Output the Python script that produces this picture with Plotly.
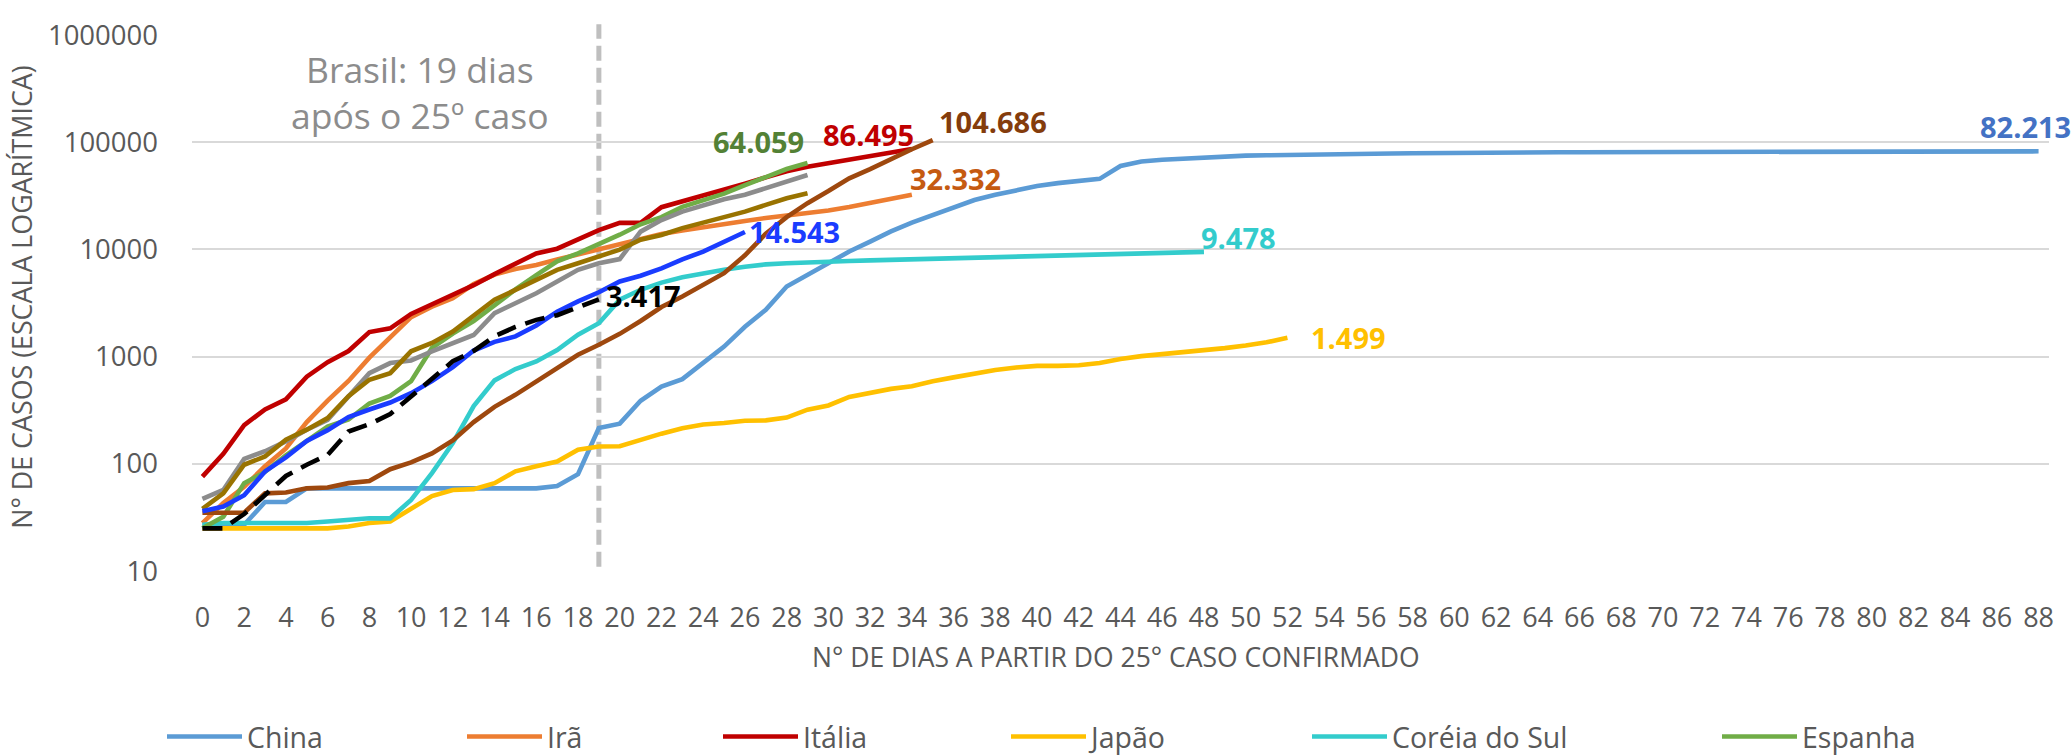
import math
import plotly.graph_objects as go

# ---------------- data ----------------
x_tick_vals = list(range(0, 89, 2))
y_tick_vals = [10, 100, 1000, 10000, 100000, 1000000]
y_tick_text = ["10", "100", "1000", "10000", "100000", "1000000"]

china = [27, 27, 27, 44, 44, 59, 59, 59, 59, 59, 59, 59, 59, 59, 59, 59, 59,
         62, 80, 216, 237, 387, 525, 616, 870, 1240, 1900, 2730, 4500, 5800,
         7430, 9550, 11800, 14700, 17800, 21000, 25000, 28900, 32300, 35900,
         39000, 41500, 43500, 45500, 60000, 66000, 68500, 70500, 72500, 74000,
         75000, 75500, 76300, 76900, 77200, 77700, 78100, 78500, 78800, 79300,
         79800, 80000, 80150, 80270, 80400, 80550, 80650, 80700, 80740, 80750,
         80780, 80790, 80810, 80820, 80840, 80860, 80880, 80900, 80930, 80970,
         81010, 81050, 81090, 81170, 81220, 81290, 81400, 81700, 82213]
ira = [28, 43, 61, 95, 139, 245, 388, 593, 978, 1501, 2336, 2922, 3513, 4747,
       5823, 6566, 7161, 8042, 9000, 10075, 11364, 12729, 13938, 14991, 16169,
       17361, 18407, 19644, 20610, 21638, 23049, 24811, 27017, 29406, 32332]
italia = [76, 124, 229, 322, 400, 650, 888, 1128, 1694, 1835, 2502, 3089, 3858,
          4636, 5883, 7375, 9172, 10149, 12462, 15113, 17660, 17660, 24747,
          27980, 31506, 35713, 41035, 47021, 53578, 59138, 63927, 69176, 74386,
          80589, 86495]
japao = [25, 25, 25, 25, 25, 25, 25, 26, 28, 29, 38, 50, 57, 58, 66, 85, 95,
         105, 135, 145, 146, 168, 191, 215, 233, 240, 252, 254, 270, 320, 350,
         420, 460, 500, 530, 590, 640, 700, 750, 790, 820, 820, 830, 870, 950,
         1010, 1050, 1090, 1140, 1200, 1270, 1360, 1499]
coreia = [27, 28, 28, 28, 28, 28, 29, 30, 31, 31, 46, 82, 156, 346, 600, 765,
          900, 1150, 1600, 2050, 3400, 4200, 4900, 5500, 6000, 6450, 6900, 7250,
          7430, 7600, 7700, 7800, 7900, 8000, 8100, 8160, 8240, 8320, 8410, 8560,
          8650, 8800, 8900, 8960, 9040, 9140, 9240, 9330, 9478]
espanha = [25, 32, 66, 84, 120, 165, 222, 259, 365, 430, 589, 1204, 1639, 2140,
           3004, 4231, 5753, 7753, 9191, 11178, 13716, 17147, 19980, 24926,
           28572, 33089, 39673, 47610, 56188, 64059]
eua = [35, 35, 35, 53, 54, 59, 60, 66, 69, 89, 103, 125, 165, 245, 340, 440,
       587, 780, 1040, 1290, 1630, 2150, 2900, 3630, 4700, 6000, 8800, 14000,
       20000, 27000, 35000, 46000, 56000, 70000, 86000, 104686]
alemanha = [47, 57, 111, 131, 162, 208, 257, 420, 700, 870, 920, 1120, 1340,
            1590, 2540, 3160, 3900, 5010, 6450, 7430, 8120, 14650, 18800, 22500,
            26000, 29400, 32300, 37400, 43000, 49400]
franca = [38, 53, 98, 117, 168, 208, 267, 427, 608, 700, 1120, 1340, 1710, 2400,
          3390, 4190, 5200, 6450, 7430, 8580, 9960, 12300, 13650, 15800, 17800,
          20200, 22500, 26000, 30000, 33400]
reino_unido = [36, 40, 51, 85, 115, 163, 206, 273, 321, 373, 456, 590, 798,
               1140, 1372, 1543, 1950, 2626, 3269, 3983, 5018, 5683, 6650, 8077,
               9529, 11658, 14543]
brasil = [25, 25, 34, 52, 77, 98, 121, 200, 234, 291, 428, 621, 904, 1128, 1546,
          1891, 2201, 2433, 2915, 3417]

# ---------------- styles ----------------
FONT = "Open Sans, Noto Sans, sans-serif"
GREY_TXT = "#595959"

series = [
    dict(name="China", y=china, color="#5B9BD5", legend="legend",
         lab=dict(color="#4472C4", xanchor="center", xshift=-13, yshift=25)),
    dict(name="Irã", y=ira, color="#ED7D31", legend="legend2",
         lab=dict(color="#C55A11", xanchor="left", xshift=-4, yshift=16)),
    dict(name="Itália", y=italia, color="#C00000", legend="legend3",
         lab=dict(color="#C00000", xanchor="right", xshift=4, yshift=14)),
    dict(name="Japão", y=japao, color="#FFC000", legend="legend4",
         lab=dict(color="#FFC000", xanchor="left", xshift=22, yshift=0)),
    dict(name="Coréia do Sul", y=coreia, color="#33CCCC", legend="legend5",
         lab=dict(color="#33CCCC", xanchor="left", xshift=-5, yshift=14)),
    dict(name="Espanha", y=espanha, color="#70AD47", legend="legend6",
         lab=dict(color="#538135", xanchor="right", xshift=-2, yshift=21)),
    dict(name="EUA", y=eua, color="#9E480E", legend=None,
         lab=dict(color="#843C0C", xanchor="left", xshift=4, yshift=19)),
    dict(name="Alemanha", y=alemanha, color="#8C8C8C", legend=None, lab=None),
    dict(name="França", y=franca, color="#997300", legend=None, lab=None),
    dict(name="Reino Unido", y=reino_unido, color="#1A3CFF", legend=None,
         lab=dict(color="#1A3CFF", xanchor="left", xshift=2, yshift=0)),
    dict(name="Brasil", y=brasil, color="#000000", legend=None, dash="20px,10px",
         lab=dict(color="#000000", xanchor="left", xshift=5, yshift=4)),
]

W, H = 2072, 755
legend_left_px = {"legend": 162, "legend2": 462, "legend3": 718,
                  "legend4": 1006, "legend5": 1307, "legend6": 1717}

fig = go.Figure()
annotations = []
for s in series:
    xs = list(range(len(s["y"])))
    fig.add_trace(go.Scatter(
        x=xs, y=s["y"], mode="lines", name=s["name"],
        line=dict(color=s["color"], width=4.6, dash=s.get("dash", "solid")),
        showlegend=s["legend"] is not None,
        legend=s["legend"] if s["legend"] else "legend",
        hoverinfo="x+y+name",
    ))
    if s["lab"]:
        last_x = xs[-1]
        last_y = s["y"][-1]
        annotations.append(dict(
            x=last_x, y=math.log10(last_y), xref="x", yref="y",
            text=f"{last_y:,}".replace(",", "."), showarrow=False,
            xanchor=s["lab"]["xanchor"], yanchor="middle",
            xshift=s["lab"]["xshift"], yshift=s["lab"]["yshift"],
            font=dict(family=FONT, size=29, color=s["lab"]["color"], weight="bold"),
        ))

brasil_day = len(brasil) - 1

fig.add_shape(type="line", xref="x", yref="paper", x0=brasil_day, x1=brasil_day,
              y0=0.008, y1=1.02, line=dict(color="#BFBFBF", width=5, dash="15px,7px"),
              layer="below")

annotations.append(dict(
    text="Brasil: 19 dias<br>após o 25º caso", xref="paper", yref="paper",
    x=0.123, y=0.893, showarrow=False, xanchor="center", yanchor="middle",
    font=dict(family=FONT, size=35.5, color="#8C8C8C"),
))
annotations.append(dict(
    text="N° DE CASOS (ESCALA LOGARÍTMICA)", xref="paper", yref="paper",
    x=-0.092, y=0.51, showarrow=False, textangle=-90, xanchor="center",
    yanchor="middle", font=dict(family=FONT, size=26.8, color=GREY_TXT),
))
annotations.append(dict(
    text="N° DE DIAS A PARTIR DO 25° CASO CONFIRMADO", xref="paper", yref="paper",
    x=0.4977, y=-0.1596, showarrow=False, xanchor="center", yanchor="middle",
    font=dict(family=FONT, size=26.5, color=GREY_TXT),
))

legend_common = dict(orientation="h", xref="container", yref="container",
                     y=(H - 737) / H, yanchor="middle", xanchor="left",
                     font=dict(family=FONT, size=28.5, color=GREY_TXT),
                     bgcolor="rgba(0,0,0,0)", borderwidth=0, itemwidth=75)
legends = {k: dict(legend_common, x=v / W) for k, v in legend_left_px.items()}

fig.update_layout(
    width=W, height=H,
    margin=dict(l=192, r=23, t=35, b=184, autoexpand=False),
    paper_bgcolor="white", plot_bgcolor="white",
    font=dict(family=FONT, color=GREY_TXT),
    annotations=annotations,
    showlegend=True,
    **legends,
)
fig.update_xaxes(
    range=[-0.5, 88.5], tickmode="array", tickvals=x_tick_vals,
    ticktext=[str(v) for v in x_tick_vals], showgrid=False, zeroline=False,
    showline=False, ticks="", ticklabelstandoff=28,
    tickfont=dict(family=FONT, size=27, color=GREY_TXT),
)
fig.update_yaxes(
    type="log", range=[1, 6], tickmode="array", tickvals=y_tick_vals,
    ticktext=y_tick_text, showgrid=True, gridcolor="#D9D9D9", gridwidth=2,
    zeroline=False, showline=False, ticks="", ticklabelstandoff=33,
    tickfont=dict(family=FONT, size=27.5, color=GREY_TXT),
)

fig.write_html(
    "out.html",
    config={"displayModeBar": False},
    post_script="document.body.style.margin='0px';document.body.style.overflow='hidden';",
)
